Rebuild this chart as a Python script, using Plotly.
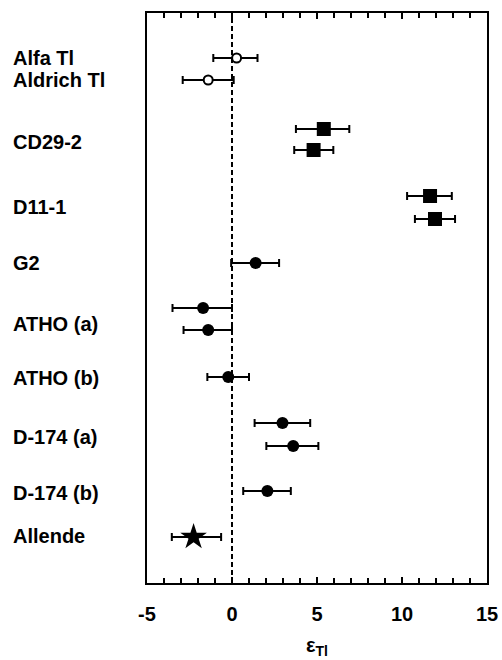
import plotly.graph_objects as go

# Sample labels and their vertical positions (rows, top = 0)
labels = ["Alfa Tl", "Aldrich Tl", "CD29-2", "D11-1", "G2", "ATHO (a)", "ATHO (b)",
          "D-174 (a)", "D-174 (b)", "Allende"]
label_rows = [4.5, 6.7, 12.9, 19.4, 25.0, 31.1, 36.5, 42.4, 48.0, 52.3]

# Open circles (Tl standards)
open_y = [4.5, 6.7]
open_x = [0.27, -1.4]
open_lo = [-1.1, -2.9]
open_hi = [1.5, 0.1]

# Squares (CD29-2, D11-1)
sq_y = [11.6, 13.7, 18.3, 20.6]
sq_x = [5.4, 4.8, 11.65, 11.94]
sq_lo = [3.76, 3.66, 10.3, 10.76]
sq_hi = [6.9, 5.96, 12.93, 13.12]

# Filled circles
fc_y = [25.0, 29.5, 31.7, 36.4, 41.0, 43.3, 47.8]
fc_x = [1.39, -1.7, -1.4, -0.22, 2.97, 3.6, 2.08]
fc_lo = [-0.05, -3.5, -2.85, -1.45, 1.33, 2.02, 0.66]
fc_hi = [2.77, 0.0, 0.0, 1.0, 4.6, 5.08, 3.46]

# Star (Allende)
st_y = [52.4]
st_x = [-2.26]
st_lo = [-3.54]
st_hi = [-0.64]

x_ticks = [-5, 0, 5, 10, 15]

FONT = "Liberation Sans, Arial, sans-serif"

def errtrace(x, y, lo, hi, symbol, size, color, line_w=0):
    return go.Scatter(
        x=x, y=y, mode="markers",
        marker=dict(symbol=symbol, size=size, color=color,
                    line=dict(color="black", width=line_w)),
        error_x=dict(type="data", symmetric=False,
                     array=[h - v for h, v in zip(hi, x)],
                     arrayminus=[v - l for v, l in zip(x, lo)],
                     color="black", thickness=2, width=4),
        showlegend=False, cliponaxis=False, hoverinfo="skip",
    )

fig = go.Figure()
fig.add_trace(errtrace(open_x, open_y, open_lo, open_hi, "circle", 9, "white", 2))
fig.add_trace(errtrace(sq_x, sq_y, sq_lo, sq_hi, "square", 14, "black"))
fig.add_trace(errtrace(fc_x, fc_y, fc_lo, fc_hi, "circle", 12, "black"))
fig.add_trace(errtrace(st_x, st_y, st_lo, st_hi, "star", 20, "black"))

fig.add_shape(type="line", x0=0, x1=0, y0=0, y1=1, xref="x", yref="paper",
              line=dict(color="black", width=2, dash="5px,3px"), layer="below")

for lab, r in zip(labels, label_rows):
    fig.add_annotation(x=0, xref="paper", y=r, yref="y",
                       text="<b>" + lab + "</b>", showarrow=False,
                       xanchor="left", xshift=-136,
                       font=dict(family=FONT, size=20, color="black"))

fig.update_layout(
    width=502, height=660, autosize=False,
    margin=dict(l=147, r=15, t=13, b=77),
    paper_bgcolor="white", plot_bgcolor="white",
    font=dict(family=FONT, color="black"),
    xaxis=dict(range=[-5, 15], tickvals=x_ticks,
               ticktext=["<b>%d</b>" % v for v in x_ticks],
               ticks="inside", ticklen=6, tickwidth=1.5, tickcolor="black",
               minor=dict(dtick=1, ticks="inside", ticklen=5, tickwidth=1.5, tickcolor="black"),
               showline=True, linewidth=2, linecolor="black", mirror="ticks",
               showgrid=False, zeroline=False, ticklabelstandoff=12,
               automargin=False, ticklabeloverflow="allow",
               tickfont=dict(family=FONT, size=20, color="black"),
               title=dict(text="<b>ε<sub>Tl</sub></b>", standoff=14,
                          font=dict(family=FONT, size=20, color="black"))),
    yaxis=dict(range=[57, 0], showticklabels=False, ticks="",
               showline=True, linewidth=2, linecolor="black", mirror=True,
               showgrid=False, zeroline=False, automargin=False),
)

fig.write_html("out.html",
               config={"displayModeBar": False, "responsive": False},
               post_script="document.body.style.margin='0';")
